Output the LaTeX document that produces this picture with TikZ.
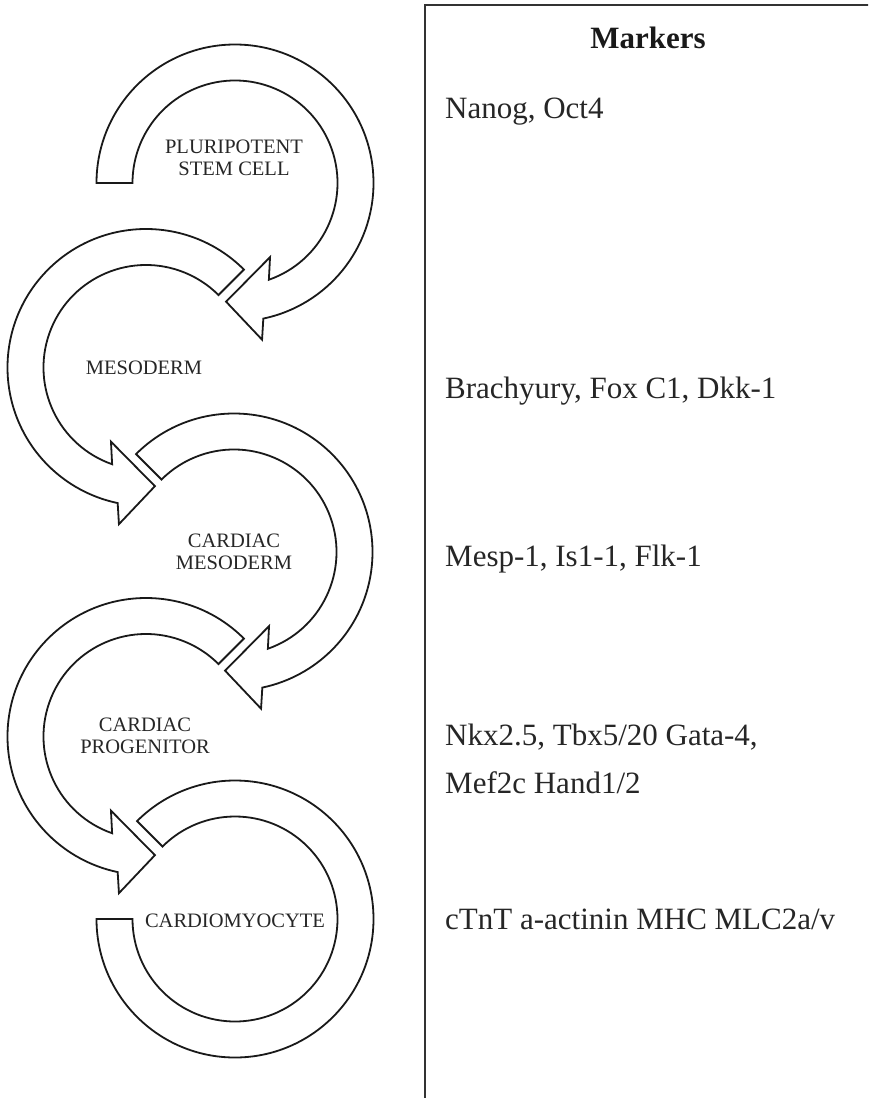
\documentclass[tikz,border=0pt]{standalone}
\usepackage{fontspec}
\setmainfont{Liberation Serif}
\tikzset{
  ring/.style={draw=black!90, line width=1.8pt, fill=white, line join=miter},
  boxline/.style={draw=black!80, line width=2pt},
  lbl/.style={inner sep=0pt, align=center, text=black!85, font=\fontsize{20.5}{22}\selectfont},
  mk/.style={inner sep=0pt, anchor=base west, text=black!85, font=\fontsize{31}{48}\selectfont},
  hdr/.style={inner sep=0pt, anchor=base, text=black!90, font=\fontsize{31}{48}\selectfont\bfseries},
  pics/cwarrow/.style={code={
    \draw[ring] (#1:138.5) arc[start angle=#1, end angle=-78.2, radius=138.5]
      -- (-80.2:159) -- (-94.3:119) -- (-64.7:82) -- (-70.7:102.5)
      arc[start angle=-70.7, end angle=#1, radius=102.5] -- cycle;
  }},
  pics/ccwarrow/.style={code={
    \draw[ring] (#1:138.5) arc[start angle=#1, end angle=258.2, radius=138.5]
      -- (260.2:159) -- (274.3:119) -- (244.7:82) -- (250.7:102.5)
      arc[start angle=250.7, end angle=#1, radius=102.5] -- cycle;
  }},
  pics/openring/.style={code={
    \draw[ring] (180:138.5) arc[start angle=180, end angle=495, radius=138.5]
      -- (495:102.5) arc[start angle=495, end angle=180, radius=102.5] -- cycle;
  }},
}
\begin{document}
\begin{tikzpicture}[x=1pt,y=1pt]
  \path[use as bounding box] (0,0) rectangle (868,-1098);
  \begin{scope}
    \clip (0,0) rectangle (868,-1098);
    \draw[boxline] (425,-5) rectangle (900,-1130);
  \end{scope}

  % circular arrows
  \pic at (235,-183) {cwarrow=180};
  \pic at (146,-367.5) {ccwarrow=45};
  \pic at (234,-552) {cwarrow=135};
  \pic at (146,-736.5) {ccwarrow=45};
  \pic at (235,-919) {openring};

  % stage labels
  \node[lbl] (psc) at (234,-158) {PLURIPOTENT\\STEM CELL};
  \node[lbl] (meso) at (144,-368) {MESODERM};
  \node[lbl] (cmeso) at (234,-551.5) {CARDIAC\\MESODERM};
  \node[lbl] (cprog) at (145,-736) {CARDIAC\\PROGENITOR};
  \node[lbl] (cmyo) at (235,-920.5) {CARDIOMYOCYTE};

  % markers panel
  \node[hdr] (head) at (648,-48) {Markers};
  \node[mk] (m1) at (445,-118) {Nanog, Oct4};
  \node[mk] (m2) at (445,-398) {Brachyury, Fox C1, Dkk-1};
  \node[mk] (m3) at (445,-566) {Mesp-1, Is1-1, Flk-1};
  \node[mk] (m4a) at (445,-745) {Nkx2.5, Tbx5/20 Gata-4,};
  \node[mk] (m4b) at (445,-793) {Mef2c Hand1/2};
  \node[mk] (m5) at (445,-929) {cTnT a-actinin MHC MLC2a/v};
\end{tikzpicture}
\end{document}
